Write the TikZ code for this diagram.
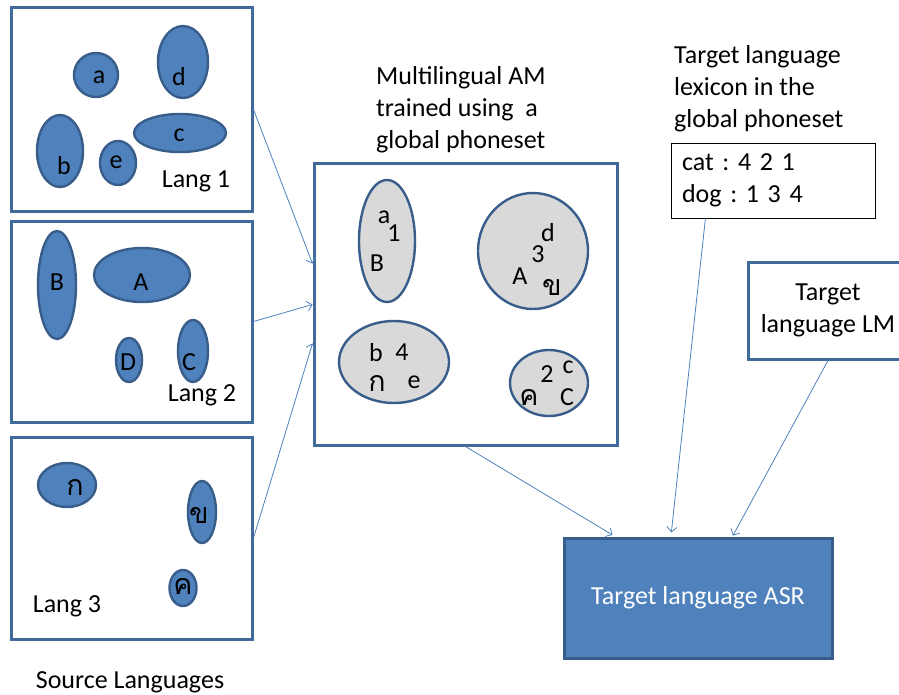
\documentclass[tikz,border=0pt]{standalone}
\usepackage{fontspec}
\setmainfont{Carlito}
\newfontfamily\thaifont[Script=Thai,Scale=1.1]{Loma}
\usetikzlibrary{arrows.meta,calc,shapes.geometric}
\definecolor{phoneFill}{HTML}{4F81BD}
\definecolor{ellEdge}{HTML}{385D8A}
\definecolor{boxEdge}{HTML}{41699A}
\definecolor{mergeFill}{HTML}{D9D9D9}
\definecolor{flowBlue}{HTML}{4F81BD}
\frenchspacing
\begin{document}
\begin{tikzpicture}[x=1pt,y=-1pt,
  every node/.style={font=\fontsize{26}{32}\selectfont, inner sep=0pt},
  langbox/.style={rectangle, draw=boxEdge, line width=3pt, fill=white},
  phone/.style={ellipse, draw=ellEdge, line width=2.4pt, fill=phoneFill},
  merged/.style={ellipse, draw=ellEdge, line width=2.4pt, fill=mergeFill},
  flow/.style={draw=flowBlue, line width=0.8pt, -{Straight Barb[length=5pt,width=10pt]}}]
\useasboundingbox (0,0) rectangle (899,695);

% ---- source language boxes ----
\node[langbox, minimum width=241pt, minimum height=203pt] (lang1) at (131.5,109.5) {};
\node[langbox, minimum width=241pt, minimum height=201pt] (lang2) at (131.5,321.5) {};
\node[langbox, minimum width=241pt, minimum height=202pt] (lang3) at (131.5,538) {};

% Lang 1 phones
\node[phone, minimum width=44pt, minimum height=44pt] (p1a) at (96,75) {};
\node (t1a) at (99,77) {a};
\node[phone, minimum width=50pt, minimum height=72pt] (p1d) at (183,62) {};
\node (t1d) at (179,77) {d};
\node[phone, minimum width=46pt, minimum height=72pt] (p1b) at (60,151) {};
\node (t1b) at (64,166) {b};
\node[phone, minimum width=36pt, minimum height=44pt] (p1e) at (118,163) {};
\node (t1e) at (116,162) {e};
\node[phone, minimum width=92pt, minimum height=38pt] (p1c) at (180,133) {};
\node (t1c) at (179,135) {c};
\node (n1) at (196,181) {Lang 1};

% Lang 2 phones
\node[phone, minimum width=38pt, minimum height=108pt] (p2B) at (57,285) {};
\node (t2B) at (57,282) {B};
\node[phone, minimum width=96pt, minimum height=54pt] (p2A) at (142,275) {};
\node (t2A) at (141,282) {A};
\node[phone, minimum width=26pt, minimum height=44pt] (p2D) at (129,360) {};
\node (t2D) at (128,362) {D};
\node[phone, minimum width=30pt, minimum height=62pt] (p2C) at (193,351) {};
\node (t2C) at (189,362) {C};
\node (n2) at (202,395) {Lang 2};

% Lang 3 phones
\node[phone, minimum width=58pt, minimum height=44pt] (p3k) at (67,485) {};
\node (t3k) at (75,487) {\thaifont ก};
\node[phone, minimum width=28pt, minimum height=62pt] (p3kh) at (202,512) {};
\node (t3kh) at (199,515) {\thaifont ข};
\node[phone, minimum width=27pt, minimum height=36pt] (p3kk) at (183,588) {};
\node (t3kk) at (183,586) {\thaifont ค};
\node (n3) at (67,606) {Lang 3};

\node (src) at (130,682) {Source Languages};

% ---- multilingual acoustic model ----
\node[anchor=west, align=left] (amcap) at (376,110) {Multilingual AM\\trained using\ \ a\\global phoneset};
\node[rectangle, draw=boxEdge, line width=3pt, fill=white,
      minimum width=303pt, minimum height=281pt] (am) at (465.5,304.5) {};

\node[merged, minimum width=56pt, minimum height=122pt] (g1) at (387,241) {};
\node (g1a) at (384,217) {a};
\node (g1n) at (394,233) {1};
\node (g1B) at (377,263) {B};

\node[merged, minimum width=110pt, minimum height=116pt] (g3) at (533,251) {};
\node (g3d) at (548,233) {d};
\node (g3n) at (538,254) {3};
\node (g3A) at (520,276) {A};
\node (g3kh) at (552,287) {\thaifont ข};

\node[merged, minimum width=110pt, minimum height=82pt] (g4) at (394,362) {};
\node (g4b) at (376,353) {b};
\node (g4n) at (402,352) {4};
\node (g4k) at (377,383) {\thaifont ก};
\node (g4e) at (414,382) {e};

\node[merged, minimum width=78pt, minimum height=66pt] (g2) at (549,383) {};
\node (g2n) at (547,374) {2};
\node (g2c) at (568,367) {c};
\node (g2kk) at (529,397) {\thaifont ค};
\node (g2C) at (567,397) {C};

% ---- target language resources ----
\node[anchor=west, align=left] (lexcap) at (674,89) {Target language\\lexicon in the\\global phoneset};
\node[rectangle, draw=black, line width=0.8pt, fill=white, align=left,
      text width=182pt, inner xsep=11pt, minimum height=75pt] (lex) at (773,180.5)
      {cat : 4 2 1\\dog : 1 3 4};

\node[rectangle, draw=boxEdge, line width=3pt, fill=white, align=center,
      minimum width=160pt, minimum height=97pt] (lm) at (828,310.5)
      {Target\\language LM};

\node[rectangle, draw=ellEdge, line width=3pt, fill=phoneFill, text=white,
      minimum width=268pt, minimum height=120pt] (asr) at (698,598)
      {Target language ASR};

% ---- connectors ----
\draw[flow] (lang1.east) -- ($(am.north west)!0.356!(am.south west)$);
\draw[flow] (lang2.east) -- (am.west);
\draw[flow] (lang3.east) -- ($(am.north west)!0.637!(am.south west)$);
\draw[flow, shorten >=3pt] (am.south) -- ($(asr.north west)!0.194!(asr.north east)$);
\draw[flow, shorten >=4pt] ($(lex.south west)!0.17!(lex.south east)$) -- ($(asr.north west)!0.40!(asr.north east)$);
\draw[flow, shorten >=1pt] (lm.south) -- ($(asr.north west)!0.627!(asr.north east)$);
\end{tikzpicture}
\end{document}
